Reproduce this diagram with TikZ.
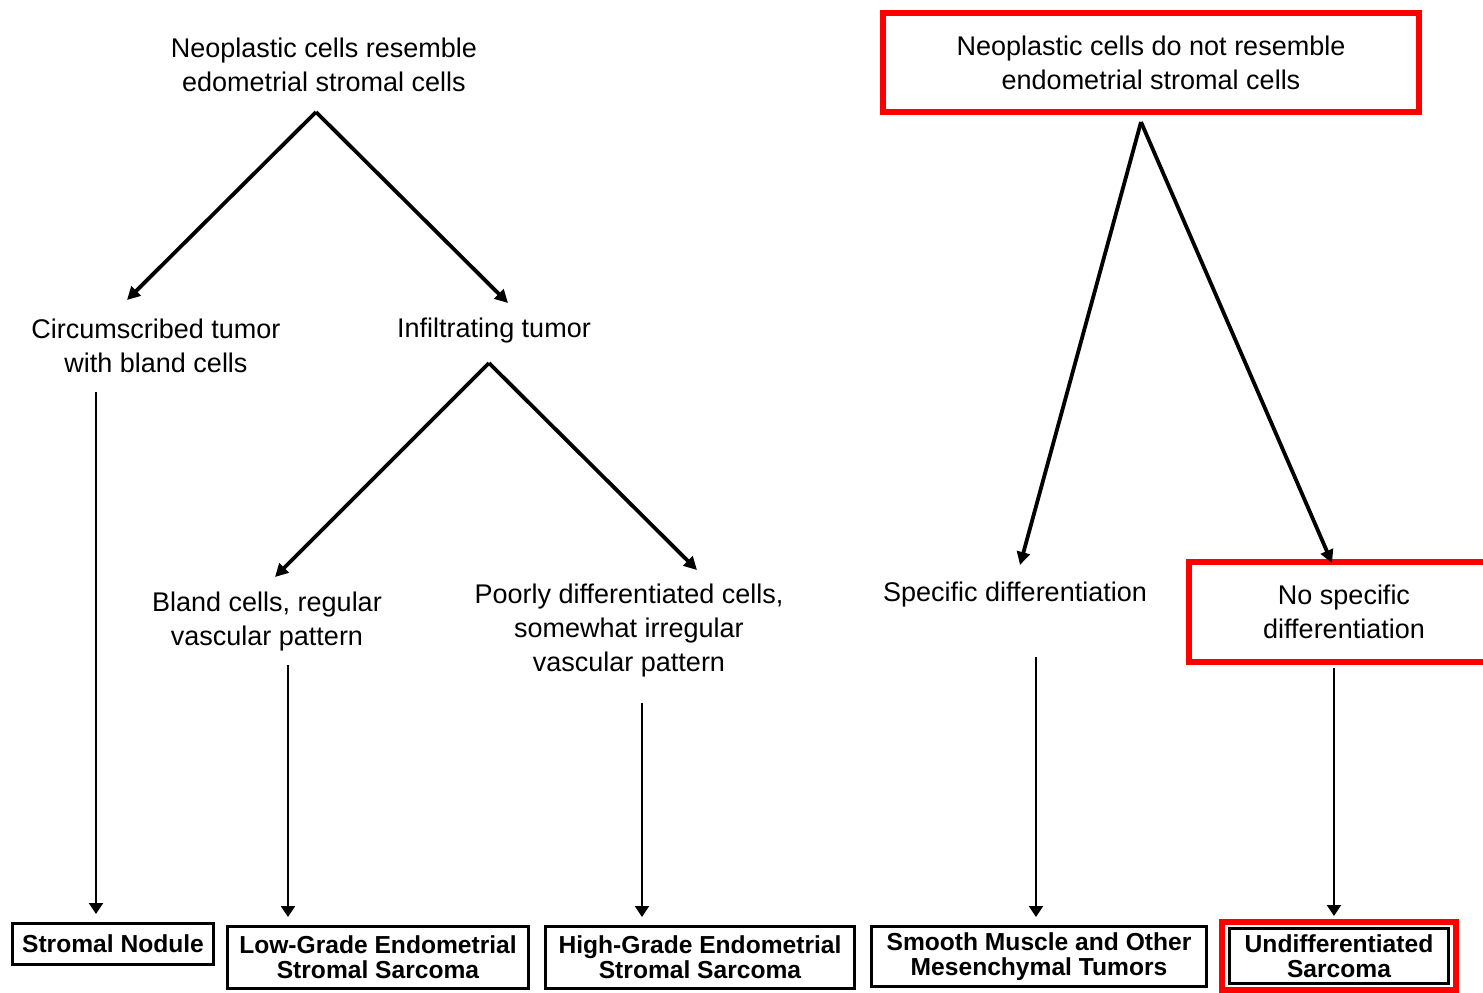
\documentclass[tikz,border=0pt]{standalone}
\usepackage{fontspec}
\setmainfont{Liberation Sans}
\usetikzlibrary{arrows.meta,calc}
\begin{document}
\begin{tikzpicture}[x=0.5pt,y=-0.5pt,
  lbl/.style={inner sep=0pt,align=center,font=\fontsize{13.5}{17}\selectfont},
  endbox/.style={draw,line width=1.5pt,inner sep=0pt,align=center,font=\fontsize{12.3}{12.5}\selectfont\bfseries},
  redbox/.style={draw=red,line width=3.25pt,inner sep=0pt,align=center,font=\fontsize{13.5}{17}\selectfont},
  darr/.style={line width=1.9pt,-{Triangle[length=6.5pt,width=6.5pt]}},
  varr/.style={line width=1.1pt,-{Triangle[length=5.5pt,width=7pt]},shorten >=4pt}]
\useasboundingbox (0,0) rectangle (1483,992);
% labels
\node[lbl] (t1) at (324,65) {Neoplastic cells resemble\\edometrial stromal cells};
\node[lbl] (circ) at (156,346) {Circumscribed tumor\\with bland cells};
\node[lbl] (infl) at (494,331) {Infiltrating tumor};
\node[lbl] (bland) at (267,622) {Bland cells, regular\\vascular pattern};
\node[lbl] (poor) at (629,631) {Poorly differentiated cells,\\somewhat irregular\\vascular pattern};
\node[lbl] (spec) at (1015,595) {Specific differentiation};
\node[redbox,minimum width=268pt,minimum height=49.5pt] (t2) at (1151,62.5) {Neoplastic cells do not resemble\\endometrial stromal cells};
\node[redbox,minimum width=155pt,minimum height=50pt] (nospec) at (1344,612) {No specific\\differentiation};
% end boxes
\node[endbox,minimum width=100.5pt,minimum height=20.5pt] (sn) at (113,944) {Stromal Nodule};
\node[endbox,minimum width=150.5pt,minimum height=31pt] (lg) at (378,957.5) {Low-Grade Endometrial\\Stromal Sarcoma};
\node[endbox,minimum width=154.5pt,minimum height=31pt] (hg) at (700,957.5) {High-Grade Endometrial\\Stromal Sarcoma};
\node[endbox,minimum width=167.5pt,minimum height=30pt] (sm) at (1039,956.5) {Smooth Muscle and Other\\Mesenchymal Tumors};
\node[endbox,minimum width=109.5pt,minimum height=27.5pt] (ud) at (1339,956) {Undifferentiated\\Sarcoma};
\draw[red,line width=3pt] ($(ud.north west)+(-6,-5)$) rectangle ($(ud.south east)+(6,5)$);
% apex and tip coordinates
\coordinate (apL) at (316,112);
\coordinate (tipC) at (127,300);
\coordinate (tipI) at (508,303);
\coordinate (apI) at (489,363);
\coordinate (tipB) at (275,577);
\coordinate (tipP) at (697,570);
\coordinate (apR) at (1141,122);
\coordinate (tipS) at (1020,565);
\coordinate (tipN) at (1332,563);
\draw[darr] (apL) -- (tipC);
\draw[darr] (apL) -- (tipI);
\draw[darr] (apI) -- (tipB);
\draw[darr] (apI) -- (tipP);
\draw[darr] (apR) -- (tipS);
\draw[darr] (apR) -- (tipN);
% vertical arrows
\coordinate (v1) at (96,392);
\coordinate (v2) at (288,665);
\coordinate (v3) at (642,703);
\coordinate (v4) at (1036,657);
\coordinate (v5) at (1334,668);
\draw[varr] (v1) -- (v1 |- sn.north);
\draw[varr] (v2) -- (v2 |- lg.north);
\draw[varr] (v3) -- (v3 |- hg.north);
\draw[varr] (v4) -- (v4 |- sm.north);
\draw[varr,shorten >=5.5pt] (v5) -- (v5 |- ud.north);
\end{tikzpicture}
\end{document}
